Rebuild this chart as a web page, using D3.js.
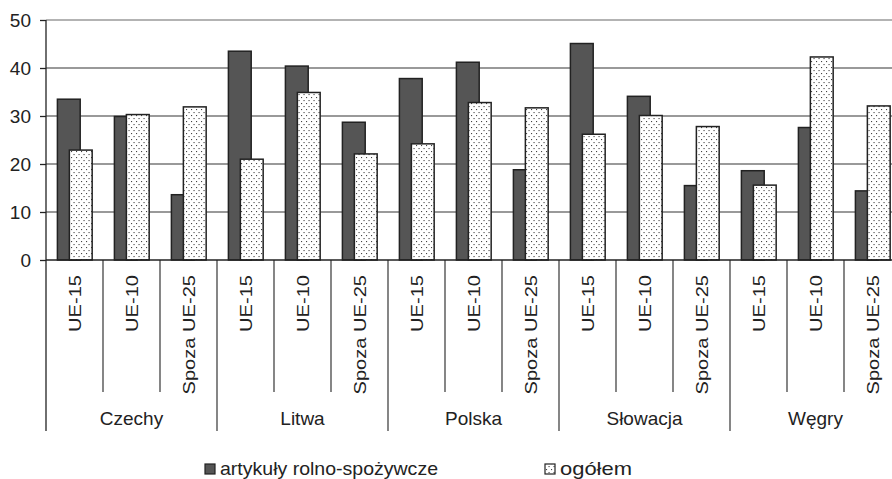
<!DOCTYPE html>
<html><head><meta charset="utf-8">
<script src="https://cdn.jsdelivr.net/npm/d3@7"></script>
<style>body{margin:0;background:#fff}svg{display:block;font-family:"Liberation Sans",Arial,sans-serif}</style>
</head><body><svg id="c" width="892" height="479"></svg>
<script>
const countries = ["Czechy","Litwa","Polska","Słowacja","Węgry"];
const partners = ["UE-15","UE-10","Spoza UE-25"];
const agri  = [33.5,29.9,13.6, 43.5,40.4,28.7, 37.8,41.2,18.8, 45.1,34.1,15.5, 18.6,27.6,14.4];
const total = [22.9,30.3,31.9, 21.0,34.9,22.1, 24.2,32.8,31.7, 26.2,30.1,27.8, 15.6,42.3,32.1];
const yTicks = [0,10,20,30,40,50];
const seriesNames = ["artykuły rolno-spożywcze","ogółem"];

const svg = d3.select("#c");
const mLeft = 46, mTop = 20, mBottom = 260, catW = 57;
const cats = [];
countries.forEach(c => partners.forEach(p => cats.push(c + "|" + p)));
const x = d3.scaleBand().domain(cats).range([mLeft, mLeft + catW * cats.length]);
const y = d3.scaleLinear().domain([0,50]).range([mBottom, mTop]);

const defs = svg.append("defs");
const pat = defs.append("pattern").attr("id","dots").attr("patternUnits","userSpaceOnUse")
  .attr("width",5).attr("height",6);
pat.append("rect").attr("width",5).attr("height",6).attr("fill","#fff");
pat.append("rect").attr("x",1).attr("y",1).attr("width",1.1).attr("height",1.1).attr("fill","#444");
pat.append("rect").attr("x",3.5).attr("y",4).attr("width",1.1).attr("height",1.1).attr("fill","#444");

// gridlines
svg.append("g").selectAll("line").data(yTicks.filter(d=>d>0)).join("line")
  .attr("x1",mLeft).attr("x2",892).attr("y1",d=>y(d)).attr("y2",d=>y(d))
  .attr("stroke",d=>d===50?"#9a9a9a":"#777").attr("stroke-width",1.3);

// y axis
const ya = svg.append("g").attr("transform",`translate(${mLeft},0)`)
  .call(d3.axisLeft(y).tickValues(yTicks).tickSize(6).tickPadding(9));
ya.select(".domain").remove();
ya.selectAll(".tick line").attr("stroke","#222").attr("stroke-width",1.3);
ya.selectAll(".tick text").attr("font-size",19).attr("fill","#222").attr("font-family","Liberation Sans, Arial, sans-serif");

// bars
const bw = catW * 0.4;
svg.append("g").selectAll("rect").data(agri).join("rect")
  .attr("x",(d,i)=>x(cats[i]) + catW*0.2).attr("width",bw)
  .attr("y",d=>y(d)).attr("height",d=>y(0)-y(d))
  .attr("fill","#555").attr("stroke","#222").attr("stroke-width",1.5);
svg.append("g").selectAll("rect").data(total).join("rect")
  .attr("x",(d,i)=>x(cats[i]) + catW*0.41).attr("width",bw)
  .attr("y",d=>y(d)).attr("height",d=>y(0)-y(d))
  .attr("fill","url(#dots)").attr("stroke","#222").attr("stroke-width",1.5);

// axis lines
svg.append("line").attr("x1",mLeft).attr("x2",mLeft).attr("y1",mTop).attr("y2",431).attr("stroke","#222").attr("stroke-width",1.3);
svg.append("line").attr("x1",mLeft).attr("x2",892).attr("y1",mBottom).attr("y2",mBottom).attr("stroke","#222").attr("stroke-width",1.3);

// separators
const seps = cats.map((c,i)=>i).filter(i=>i>0);
seps.push(cats.length);
svg.append("g").selectAll("line").data(seps).join("line")
  .attr("x1",i=>mLeft+catW*i).attr("x2",i=>mLeft+catW*i)
  .attr("y1",mBottom).attr("y2",i=>i%3===0?431:392)
  .attr("stroke","#222").attr("stroke-width",1.1);

// partner labels
svg.append("g").selectAll("text").data(cats).join("text")
  .attr("transform",d=>`translate(${x(d)+x.bandwidth()/2+6},275) rotate(-90) scale(1.03,0.86)`)
  .attr("text-anchor","end").attr("font-size",19.5).attr("fill","#222")
  .text(d=>d.split("|")[1]);

// country labels
svg.append("g").selectAll("text").data(countries).join("text")
  .attr("x",(d,i)=>mLeft + catW*3*i + catW*1.5).attr("y",425)
  .attr("text-anchor","middle").attr("font-size",19).attr("fill","#222").text(d=>d);

// legend
const leg = [{x:205, fill:"#555", w:218},{x:545, fill:"url(#dots)", w:72}];
leg.forEach((l,i)=>{
  svg.append("rect").attr("x",l.x).attr("y",464).attr("width",10).attr("height",10)
    .attr("fill",l.fill).attr("stroke","#222").attr("stroke-width",1.2);
  svg.append("text").attr("x",l.x+15).attr("y",475).attr("font-size",19).attr("fill","#222")
    .attr("textLength",l.w).attr("lengthAdjust","spacingAndGlyphs").text(seriesNames[i]);
});
</script></body></html>
